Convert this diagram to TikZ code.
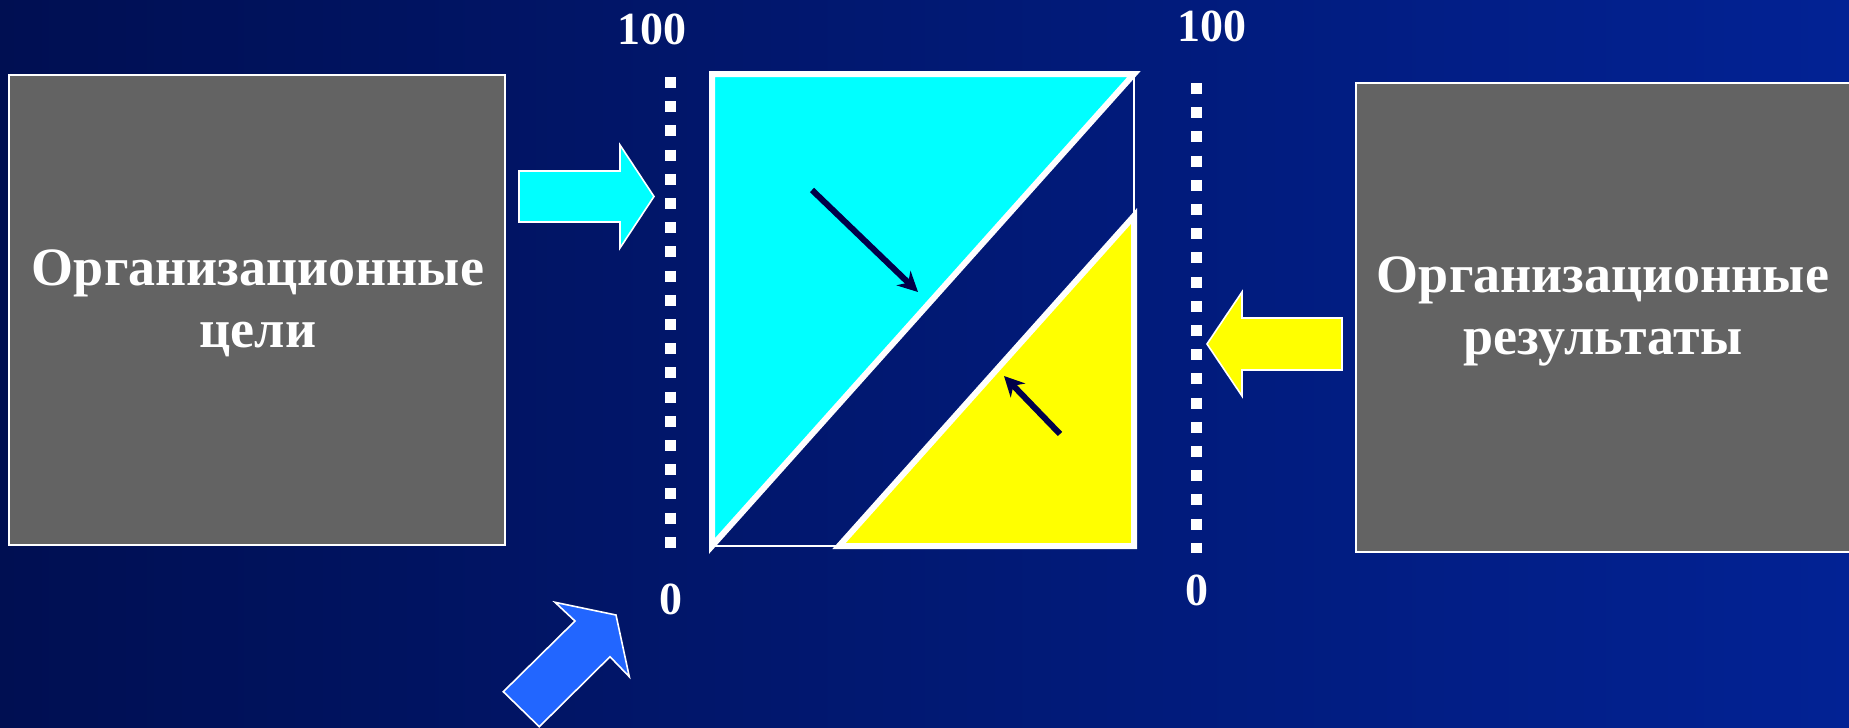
\documentclass[tikz,border=0pt]{standalone}
\usepackage{fontspec}
\setmainfont{Liberation Serif}
\usetikzlibrary{arrows.meta}
\definecolor{bgA}{RGB}{0,15,82}
\definecolor{bgB}{RGB}{2,34,148}
\definecolor{boxgray}{RGB}{99,99,99}
\definecolor{cyanF}{RGB}{0,255,255}
\definecolor{yellowF}{RGB}{255,255,0}
\definecolor{blueF}{RGB}{34,102,255}
\definecolor{navyA}{RGB}{0,0,72}
\begin{document}
\begin{tikzpicture}[x=0.5pt,y=-0.5pt,
  box/.style={draw=white, line width=0.8pt, fill=boxgray},
  boxtext/.style={text=white, font=\bfseries\fontsize{27}{31}\selectfont, align=center},
  scalelabel/.style={text=white, font=\bfseries\fontsize{23}{27}\selectfont, inner sep=0pt},
  dots/.style={draw=white, line width=5.5pt, dash pattern=on 5.5pt off 6.6pt},
  tri/.style={draw=white, line width=3pt, line join=miter},
  inner/.style={draw=navyA, line width=3pt, -{Stealth[length=10pt,width=10pt]}},
  block/.style={draw=white, line width=0.8pt, line join=miter}
]
\clip (0,0) rectangle (1849,728);
\shade[left color=bgA, right color=bgB] (0,0) rectangle (1849,728);

% grey boxes
\draw[box] (9,75) rectangle (505,545);
\draw[box] (1356,83) rectangle (1860,552);
\node[boxtext] (goals) at (258,303) {Организационные\\цели};
\node[boxtext] (results) at (1603,311) {Организационные\\результаты};

% scales
\coordinate (ltop) at (670,77);
\coordinate (lbot) at (670,548);
\coordinate (rtop) at (1196,83);
\coordinate (rbot) at (1196,553);
\draw[dots] (ltop) -- (lbot);
\draw[dots] (rtop) -- (rbot);
\node[scalelabel] (l100) at (652,29) {100};
\node[scalelabel] (r100) at (1212,26) {100};
\node[scalelabel] (l0) at (671,599) {0};
\node[scalelabel] (r0) at (1197,590) {0};

% central square
\draw[white, line width=1pt] (1134,74) -- (1134,216);
\draw[white, line width=1pt] (712,546) -- (839,546);
\filldraw[tri, fill=cyanF] (712,74) -- (1134,74) -- (712,546) -- cycle;
\filldraw[tri, fill=yellowF] (1134,216) -- (1134,546) -- (839,546) -- cycle;

\coordinate (a1s) at (812,190);
\coordinate (a1e) at (918,292);
\coordinate (a2s) at (1060,434);
\coordinate (a2e) at (1004,376);
\draw[inner] (a1s) -- (a1e);
\draw[inner] (a2s) -- (a2e);

% block arrows
\filldraw[block, fill=cyanF] (519,171) -- (620,171) -- (620,145) -- (654,196.5) -- (620,248) -- (620,222) -- (519,222) -- cycle;
\filldraw[block, fill=yellowF] (1342,318) -- (1242,318) -- (1242,292) -- (1207,344) -- (1242,396) -- (1242,370) -- (1342,370) -- cycle;
\filldraw[block, fill=blueF] (503.3,691.7) -- (575,621) -- (555,602.3) -- (616,615) -- (629.3,676.7) -- (610,656.7) -- (539.3,726.7) -- cycle;
\end{tikzpicture}
\end{document}
